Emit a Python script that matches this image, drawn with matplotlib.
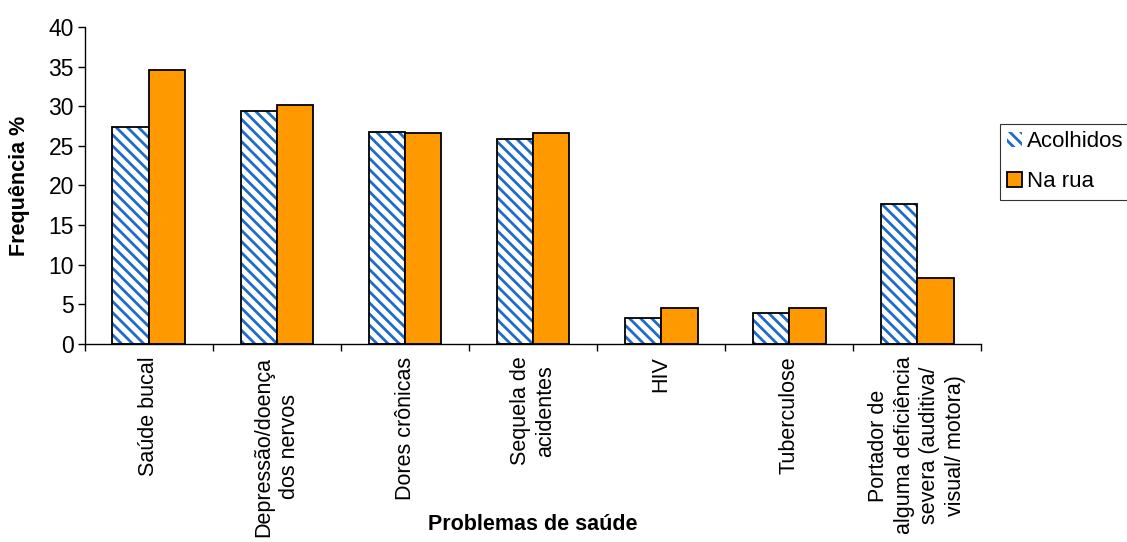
import matplotlib.pyplot as plt
import numpy as np

plt.rcParams['font.family'] = ['Liberation Sans', 'DejaVu Sans']
plt.rcParams['hatch.linewidth'] = 2.0

# problemas de saude relatados, % por grupo
categorias = ['Saúde bucal', 'Depressão/doença\ndos nervos', 'Dores crônicas',
              'Sequela de\nacidentes', 'HIV', 'Tuberculose',
              'Portador de\nalguma deficiência\nsevera (auditiva/\nvisual/ motora)']
acolhidos = [27.4, 29.4, 26.8, 25.9, 3.3, 3.9, 17.7]
na_rua = [34.6, 30.1, 26.6, 26.6, 4.6, 4.6, 8.3]

azul = '#1F6BC8'
laranja = '#FF9900'
fs_ytick = 16.5
fs_xtick = 15.5
fs_title = 15.5
fs_leg = 16

fig = plt.figure(figsize=(11.27, 5.42), dpi=100)
ax = fig.add_axes([0.0754, 0.3653, 0.7951, 0.5849])

x = np.arange(len(categorias))
w = 0.285
b1 = ax.bar(x - w/2, acolhidos, w, facecolor='white', edgecolor=azul,
            hatch='\\\\\\', lw=0, label='Acolhidos')
ax.bar(x - w/2, acolhidos, w, facecolor='none', edgecolor='black', lw=1.3)
b2 = ax.bar(x + w/2, na_rua, w, facecolor=laranja, edgecolor='black', lw=1.3,
            label='Na rua')

ax.set_xlim(-0.5, len(categorias) - 0.5)
ax.set_ylim(0, 40)
ax.set_yticks(range(0, 41, 5))
ax.tick_params(axis='y', labelsize=fs_ytick, length=5, width=1, pad=3)

# ticks nas divisoes das categorias, rotulos no centro
ax.set_xticks(np.arange(len(categorias) + 1) - 0.5)
ax.set_xticklabels([])
ax.tick_params(axis='x', which='major', length=5, width=1, direction='out')
ax.set_xticks(x, minor=True)
ax.set_xticklabels(categorias, minor=True, rotation=90, fontsize=fs_xtick,
                   ha='center', va='top', multialignment='center', linespacing=1.3)
ax.tick_params(axis='x', which='minor', length=0, pad=9)

for s in ['top', 'right']:
    ax.spines[s].set_visible(False)
for s in ['left', 'bottom']:
    ax.spines[s].set_linewidth(1)

ax.set_ylabel('Frequência %', fontsize=fs_title, fontweight='bold')
ax.yaxis.set_label_coords(-0.061, 0.5)
fig.text(533/1127, 17/542, 'Problemas de saúde', fontsize=fs_title, fontweight='bold',
         ha='center', va='center')

leg = fig.legend(handles=[b1, b2], loc='upper left', bbox_to_anchor=(0.887, 0.772),
                 fontsize=fs_leg, frameon=True, fancybox=False, edgecolor='black',
                 handlelength=0.65, handleheight=0.65, handletextpad=0.25,
                 borderpad=0.35, labelspacing=0.85, borderaxespad=0)
leg.get_frame().set_linewidth(0.8)
for h in leg.legend_handles:
    h.set_edgecolor('black')
leg.legend_handles[0].set_edgecolor(azul)

fig.savefig('out.png', dpi=100)
